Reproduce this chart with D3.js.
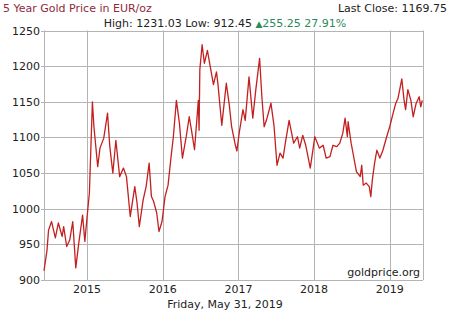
<!DOCTYPE html>
<html><head><meta charset="utf-8">
<script src="https://cdn.jsdelivr.net/npm/d3@7"></script>
<style>body{margin:0;background:#fff}svg{display:block}text{font-family:"DejaVu Sans",Verdana,sans-serif}</style>
</head><body><svg id="c" width="450" height="311"></svg>
<script>
const years = [2014.43,2014.47,2014.49,2014.53,2014.58,2014.62,2014.67,2014.69,2014.73,2014.77,2014.81,2014.85,2014.89,2014.94,2014.97,2015.00,2015.03,2015.07,2015.09,2015.14,2015.17,2015.22,2015.27,2015.30,2015.34,2015.38,2015.43,2015.48,2015.52,2015.57,2015.63,2015.66,2015.69,2015.74,2015.78,2015.82,2015.85,2015.88,2015.92,2015.95,2015.99,2016.03,2016.07,2016.11,2016.14,2016.18,2016.22,2016.26,2016.31,2016.35,2016.38,2016.42,2016.47,2016.48,2016.49,2016.52,2016.55,2016.59,2016.62,2016.67,2016.71,2016.73,2016.78,2016.84,2016.88,2016.91,2016.96,2016.98,2017.01,2017.06,2017.09,2017.14,2017.19,2017.23,2017.28,2017.31,2017.34,2017.37,2017.43,2017.47,2017.51,2017.55,2017.59,2017.62,2017.67,2017.73,2017.78,2017.81,2017.85,2017.89,2017.95,2018.01,2018.07,2018.12,2018.16,2018.21,2018.25,2018.30,2018.34,2018.38,2018.41,2018.44,2018.45,2018.49,2018.52,2018.56,2018.61,2018.63,2018.65,2018.69,2018.73,2018.75,2018.77,2018.80,2018.83,2018.87,2018.91,2018.96,2019.00,2019.04,2019.08,2019.11,2019.16,2019.19,2019.21,2019.24,2019.28,2019.31,2019.35,2019.39,2019.41,2019.43];
const prices = [913,942,970,982,959,980,961,975,947,956,982,917,952,991,954,989,1022,1150,1115,1059,1085,1099,1134,1087,1050,1096,1045,1057,1045,989,1031,1008,975,1012,1031,1064,1017,1010,994,968,982,1017,1033,1073,1101,1152,1120,1071,1101,1129,1110,1083,1152,1110,1195,1230,1204,1222,1204,1174,1192,1174,1117,1176,1145,1115,1089,1081,1106,1139,1124,1185,1127,1167,1211,1157,1115,1124,1148,1117,1061,1078,1071,1092,1124,1092,1101,1085,1103,1089,1057,1101,1085,1089,1071,1073,1089,1087,1092,1106,1127,1101,1122,1092,1075,1052,1045,1061,1033,1036,1031,1017,1040,1064,1082,1071,1082,1101,1115,1132,1148,1155,1182,1152,1139,1167,1152,1129,1148,1157,1143,1152];
const yTicks = [900,950,1000,1050,1100,1150,1200,1250];
const xTicks = [2015,2016,2017,2018,2019];
const titleText = "5 Year Gold Price in EUR/oz";
const lastClose = "Last Close: 1169.75";
const statsText = "High: 1231.03 Low: 912.45 ";
const changeText = "255.25 27.91%";
const dateText = "Friday, May 31, 2019";
const sourceText = "goldprice.org";

const svg = d3.select("#c");
const L=44,R=423,T=30.5,B=280;
const x = d3.scaleLinear().domain([2014.43,2019.44]).range([L,R]);
const y = d3.scaleLinear().domain([900,1250]).range([B,T]);
const grid="#b4b4b4";
const g = svg.append("g");
g.selectAll(".hg").data(yTicks).join("line").attr("x1",L-3).attr("x2",R)
 .attr("y1",d=>Math.round(y(d))+0.5).attr("y2",d=>Math.round(y(d))+0.5).attr("stroke",grid);
g.selectAll(".vg").data(xTicks).join("line").attr("y1",T).attr("y2",B)
 .attr("x1",d=>Math.round(x(d))+0.5).attr("x2",d=>Math.round(x(d))+0.5).attr("stroke",grid);
g.append("line").attr("x1",L+0.5).attr("x2",L+0.5).attr("y1",T).attr("y2",B).attr("stroke",grid);
g.append("line").attr("x1",R+0.5).attr("x2",R+0.5).attr("y1",T).attr("y2",B).attr("stroke",grid);
g.selectAll(".yl").data(yTicks).join("text").attr("x",L-4).attr("y",d=>y(d)+4)
 .attr("text-anchor","end").attr("font-size",11).attr("fill","#222").text(d=>d);
g.selectAll(".xl").data(xTicks).join("text").attr("x",d=>x(d)).attr("y",293)
 .attr("text-anchor","middle").attr("font-size",11).attr("fill","#222").text(d3.format("d"));
const data = years.map((t,i)=>[t,prices[i]]);
svg.append("path").datum(data).attr("fill","none").attr("stroke","#c41f1f").attr("stroke-width",1.3)
 .attr("stroke-linejoin","round").attr("d",d3.line().x(d=>x(d[0])).y(d=>y(d[1])));
svg.append("text").attr("x",3).attr("y",12).attr("font-size",11).attr("fill","#8e2a3e").text(titleText);
svg.append("text").attr("x",447).attr("y",12).attr("font-size",11).attr("fill","#222").attr("text-anchor","end").text(lastClose);
const st = svg.append("text").attr("x",225).attr("y",27).attr("font-size",11).attr("text-anchor","middle").attr("fill","#222");
st.append("tspan").text(statsText);
st.append("tspan").attr("fill","#2a8a5a").attr("font-size",9).text("\u25B2");
st.append("tspan").attr("fill","#2a8a5a").text(changeText);
svg.append("text").attr("x",225).attr("y",308).attr("font-size",11).attr("text-anchor","middle").attr("fill","#222").text(dateText);
svg.append("text").attr("x",420).attr("y",276).attr("font-size",11).attr("text-anchor","end").attr("fill","#222").text(sourceText);
</script></body></html>
